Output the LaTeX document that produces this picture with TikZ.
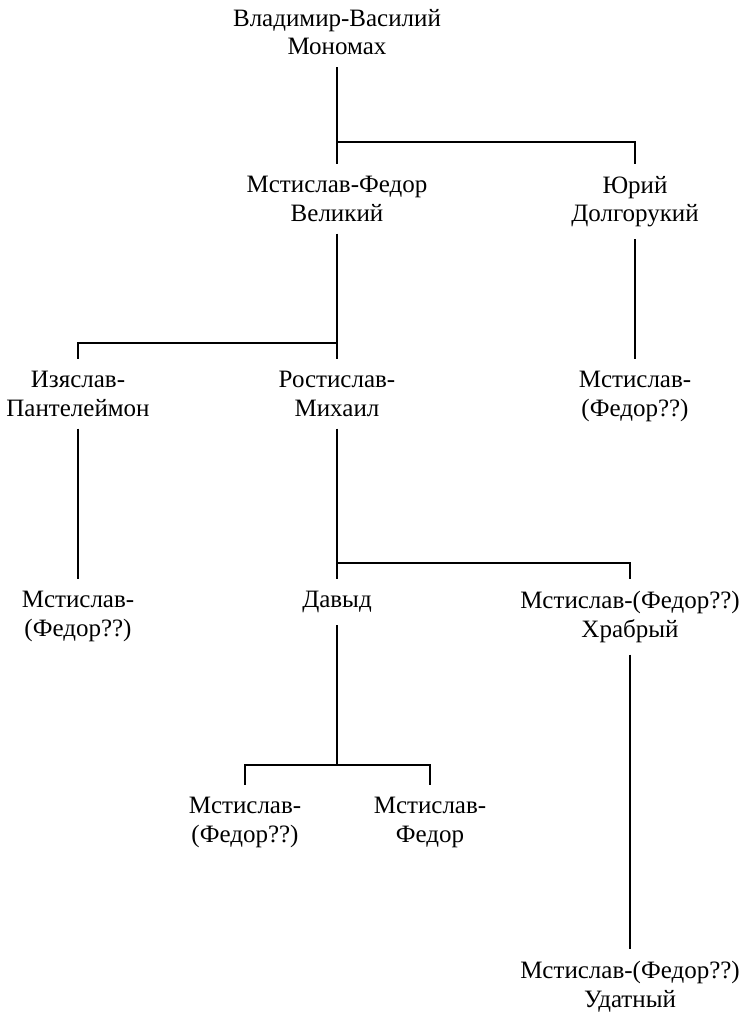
\documentclass[tikz,border=0pt]{standalone}
\usepackage{fontspec}
\setmainfont{Liberation Serif}
\usepackage{tikz}
\usetikzlibrary{positioning,calc}
\tikzset{
    person/.style={align=center, anchor=north, inner xsep=0pt, inner ysep=12pt,
                   font=\fontsize{25}{28.5}\selectfont},
    kin/.style={draw=black, line width=1.3pt}
}

\begin{document}
\begin{tikzpicture}[x=1pt, y=-1pt]
\useasboundingbox (0,0) rectangle (746,1013);

% ---- generations ----
\node[person] (vlad) at (337,-3) {Владимир-Василий\\Мономах};

\node[person] (mstv) at (337,164) {Мстислав-Федор\\Великий};
\node[person] (yurd) at (635,164) {Юрий\\Долгорукий};

\node[person] (izpa) at (78,359) {Изяслав-\\Пантелеймон};
\node[person] (romi) at (337,359) {Ростислав-\\Михаил};
\node[person] (msyu) at (635,359) {Мстислав-\\(Федор??)};

\node[person] (msiz) at (78,579) {Мстислав-\\(Федор??)};
\node[person] (davd) at (337,579) {Давыд};
\node[person] (mskh) at (630,579) {Мстислав-(Федор??)\\Храбрый};

\node[person] (msda) at (245,785) {Мстислав-\\(Федор??)};
\node[person] (msfe) at (430,785) {Мстислав-\\Федор};
\node[person] (msud) at (630,949) {Мстислав-(Федор??)\\Удатный};

% ---- junctions ----
\coordinate (j1) at (337,142);
\coordinate (j2) at (337,343);
\coordinate (j3) at (337,563);
\coordinate (j4) at (337,765);

% ---- lines ----
\draw[kin] (vlad.south) -- (mstv.north);
\draw[kin] (j1) -| (yurd.north);

\draw[kin] (mstv.south) -- (romi.north);
\draw[kin] (j2) -| (izpa.north);
\draw[kin] (yurd.south) -- (msyu.north);

\draw[kin] (izpa.south) -- (msiz.north);
\draw[kin] (romi.south) -- (davd.north);
\draw[kin] (j3) -| (mskh.north);

\draw[kin] (davd.south) -- (j4);
\draw[kin] (j4) -| (msda.north);
\draw[kin] (j4) -| (msfe.north);
\draw[kin] (mskh.south) -- (msud.north);

\end{tikzpicture}
\end{document}
